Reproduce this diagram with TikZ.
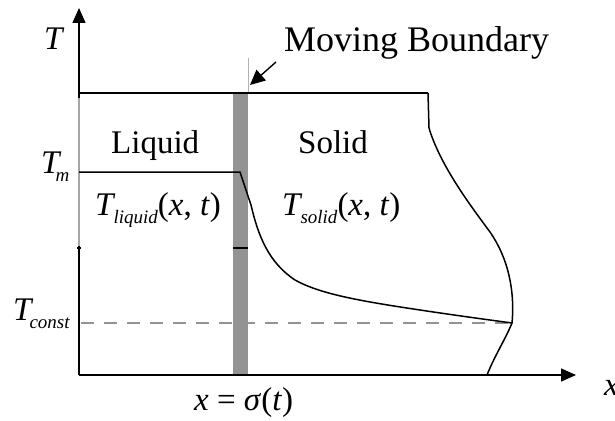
\documentclass[tikz,border=0pt]{standalone}
\usepackage{fontspec}
\setmainfont{Liberation Serif}
\usetikzlibrary{arrows.meta}
\newcommand{\bigtxt}{\fontsize{33}{38}\selectfont}
\newcommand{\hugetxt}{\fontsize{36}{40}\selectfont}
\newcommand{\subtxt}{\fontsize{19}{20}\selectfont}
\newcommand{\Tsubs}[2]{\textit{T}\kern#2\raisebox{-8pt}{\subtxt\textit{#1}}}
\tikzset{
  axis/.style={line width=1.5pt,-{Triangle[length=15pt,width=13pt]}},
  curve/.style={line width=1.5pt,black},
  lbl/.style={inner sep=0pt,anchor=base west,font=\bigtxt},
  dashline/.style={line width=1.2pt,draw=gray!85,dash pattern=on 13pt off 10pt},
}
\begin{document}
\begin{tikzpicture}[x=1pt,y=-1pt]
\useasboundingbox (0,0) rectangle (615,420);
\coordinate (O) at (79,375);
\coordinate (Ytop) at (79,8);
\coordinate (Xend) at (576,375);
% bar
\fill[gray!85] (233,93) rectangle (248,375);
% y axis
\draw[axis] (O) -- (Ytop);
\draw[line width=1.5pt,gray!70] (79,98) -- (79,246);
% x axis
\draw[axis] (O) -- (Xend);
% top line
\draw[curve] (79,93) -- (428,93);
% ticks
\draw[line width=1.3pt] (77,248) -- (81,248);
\draw[line width=1.3pt] (233,248) -- (248,248);
% dashed T const
\draw[dashline] (81,323) -- (508,323);
% solid curve
\draw[curve] (79,172) -- (240,172) -- (251,205)
  .. controls (258,235) and (268,262) .. (295,280)
  .. controls (320,294) and (360,301) .. (420,310)
  .. controls (460,316) and (490,320) .. (512,323);
% right boundary
\draw[curve] (428,93) -- (429,128)
  .. controls (440,165) and (470,205) .. (490,232)
  .. controls (508,258) and (515,290) .. (512,323)
  .. controls (505,340) and (495,355) .. (487,375);
% moving boundary pointer
\draw[line width=0.8pt,gray!60] (248,58) -- (248,92);
\draw[line width=1.4pt,-{Triangle[length=15pt,width=14pt]}] (276,62) -- (250,85);
% labels
\node[lbl,font=\hugetxt] (mb) at (284,52) {Moving Boundary};
\node[lbl] (liq) at (111,153) {Liquid};
\node[lbl] (sol) at (298,153) {Solid};
\node[lbl] (T) at (44,50) {\textit{T}};
\node[lbl] (Tm) at (41,173) {\Tsubs{m}{-6pt}};
\node[lbl] (Tc) at (13,320) {\Tsubs{const}{-4pt}};
\node[lbl] (Tl) at (95,215) {\Tsubs{liquid}{-2pt}(\textit{x}, \textit{t})};
\node[lbl] (Ts) at (282,215) {\Tsubs{solid}{-2pt}(\textit{x}, \textit{t})};
\node[lbl] (xs) at (194,410) {\textit{x} = \textit{σ}(\textit{t})};
\node[lbl] (xl) at (604,395) {\textit{x}};
\end{tikzpicture}
\end{document}
